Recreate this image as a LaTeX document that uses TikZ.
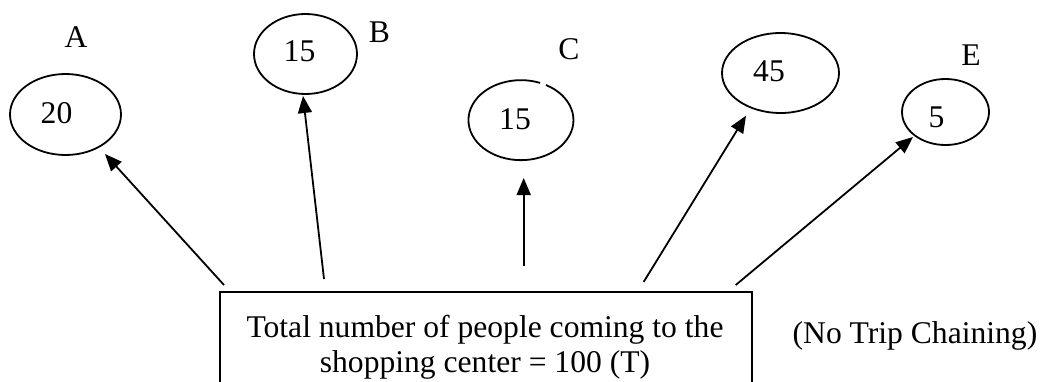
\documentclass[tikz,border=0pt]{standalone}
\usepackage{fontspec}
\setmainfont{Liberation Serif}
\usetikzlibrary{shapes.geometric,arrows.meta}
\begin{document}
\begin{tikzpicture}[x=1pt,y=-1pt,
  oval/.style={draw,line width=1.8pt,ellipse,inner sep=0pt},
  txt/.style={font=\fontsize{31.6}{36}\selectfont,inner sep=0pt},
  arr/.style={line width=1.8pt,-{Triangle[length=17pt,width=14pt]}}]
\useasboundingbox (0,0) rectangle (1043,381);
% ellipses
\node[oval,minimum width=111pt,minimum height=81pt] (ea) at (65.5,114.5) {};
\node[oval,minimum width=103pt,minimum height=80pt] (eb) at (305.5,54) {};
\node[ellipse,inner sep=0pt,minimum width=105pt,minimum height=80pt] (ec) at (520.5,121) {};
\draw[line width=1.8pt] (546.0,85.0) arc[start angle=-61.5, end angle=291.4, x radius=52.5, y radius=40];
\node[oval,minimum width=117pt,minimum height=80pt] (ed) at (780.5,73) {};
\node[oval,minimum width=87pt,minimum height=66pt] (ee) at (945.5,112) {};
% numbers
\node[txt] (na) at (56.5,113.5) {20};
\node[txt] (nb) at (299.5,51.5) {15};
\node[txt] (nc) at (515,119) {15};
\node[txt] (nd) at (769,71) {45};
\node[txt] (ne) at (936.5,117) {5};
% letters
\node[txt] (la) at (76,37) {A};
\node[txt] (lb) at (379.5,32.5) {B};
\node[txt] (lc) at (569,49) {C};
\node[txt] (le) at (971,55) {E};
% box
\node[draw,line width=1.8pt,minimum width=532pt,minimum height=130pt,anchor=north,inner sep=0pt] (box) at (486,291) {};
\node[txt,anchor=base] (t1) at (485,337) {Total number of people coming to the};
\node[txt,anchor=base] (t2) at (485,372) {shopping center = 100 (T)};
\node[txt,anchor=base] (nt) at (915,343) {(No Trip Chaining)};
% arrow ends
\coordinate (sa) at (224,285);
\coordinate (sb) at (324,279);
\coordinate (sc) at (523.7,266);
\coordinate (sd) at (643.6,282);
\coordinate (se) at (735.7,285);
\coordinate (ta) at (105,154);
\coordinate (tb) at (303,96);
\coordinate (tc) at (523.7,178);
\coordinate (td) at (746,115.7);
\coordinate (te) at (913,137);
\draw[arr] (sa) -- (ta);
\draw[arr] (sb) -- (tb);
\draw[arr] (sc) -- (tc);
\draw[arr] (sd) -- (td);
\draw[arr] (se) -- (te);
\end{tikzpicture}
\end{document}
